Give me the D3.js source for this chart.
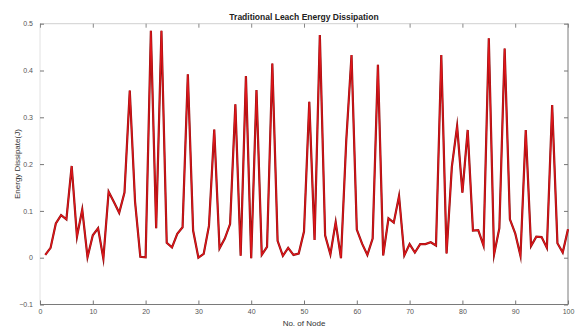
<!DOCTYPE html>
<html><head><meta charset="utf-8">
<script src="https://cdn.jsdelivr.net/npm/d3@7"></script>
<style>body{margin:0;background:#fff}svg{display:block}text{font-family:"Liberation Sans",Arial,sans-serif}</style>
</head><body><svg id="c" width="578" height="328"></svg>
<script>
const nodes = d3.range(1, 101);
const energy = [
0.006,0.021,0.073,0.091,0.082,0.196,0.045,0.103,0.001,0.048,
0.063,-0.002,0.141,0.119,0.096,0.139,0.357,0.120,0.002,0.001,
0.485,0.063,0.485,0.032,0.022,0.051,0.065,0.392,0.058,0.000,
0.008,0.068,0.274,0.020,0.041,0.072,0.328,0.004,0.388,-0.001,
0.358,0.006,0.023,0.415,0.036,0.004,0.021,0.006,0.009,0.056,
0.333,0.038,0.476,0.048,0.007,0.076,-0.001,0.250,0.433,0.060,
0.030,0.006,0.041,0.412,0.005,0.084,0.075,0.132,0.005,0.029,
0.011,0.029,0.029,0.033,0.026,0.433,0.009,0.194,0.281,0.139,
0.273,0.058,0.059,0.026,0.469,0.007,0.063,0.447,0.082,0.052,
0.004,0.273,0.025,0.045,0.044,0.021,0.326,0.031,0.011,0.061];
const xTicks = [0,10,20,30,40,50,60,70,80,90,100];
const yTicks = [-0.1,0,0.1,0.2,0.3,0.4,0.5];
const title = "Traditional Leach Energy Dissipation";
const xLabel = "No. of Node";
const yLabel = "Energy Dissipate(J)";

const svg = d3.select("#c");
const L=40, R=568, T=23.7, B=304.5;
const x = d3.scaleLinear().domain([0,100]).range([L,R]);
const y = d3.scaleLinear().domain([-0.1,0.5]).range([B,T]);

svg.append("line").attr("x1",L).attr("x2",R).attr("y1",T).attr("y2",T).attr("stroke","#d0d0d0");
svg.append("line").attr("x1",L).attr("x2",L).attr("y1",T).attr("y2",B).attr("stroke","#e2e2e2");
svg.append("line").attr("x1",L).attr("x2",R).attr("y1",B).attr("y2",B).attr("stroke","#7a7a7a");
svg.append("line").attr("x1",R).attr("x2",R).attr("y1",T).attr("y2",B).attr("stroke","#7a7a7a");

const fmtY = d => d===0 ? "0" : d3.format(".1f")(d);
const gx = svg.append("g").attr("transform",`translate(0,${B})`)
  .call(d3.axisBottom(x).tickValues(xTicks).tickSize(-4).tickPadding(5).tickFormat(d3.format("d")));
gx.select(".domain").remove();
gx.selectAll("line").attr("stroke","#777");
gx.selectAll("text").attr("fill","#555").style("font-size","7px");
const gt = svg.append("g").attr("transform",`translate(0,${T})`)
  .call(d3.axisTop(x).tickValues(xTicks).tickSize(-4).tickFormat(""));
gt.select(".domain").remove();
gt.selectAll("line").attr("stroke","#888");
const gy = svg.append("g").attr("transform",`translate(${L},0)`)
  .call(d3.axisLeft(y).tickValues(yTicks).tickSize(-4).tickPadding(7).tickFormat(fmtY));
gy.select(".domain").remove();
gy.selectAll("line").attr("stroke","#777");
gy.selectAll("text").attr("fill","#555").style("font-size","7px");
const gr = svg.append("g").attr("transform",`translate(${R},0)`)
  .call(d3.axisRight(y).tickValues(yTicks).tickSize(-4).tickFormat(""));
gr.select(".domain").remove();
gr.selectAll("line").attr("stroke","#777");

const line = d3.line().x((d,i)=>x(nodes[i])).y(d=>y(d));
svg.append("path").datum(energy).attr("d",line).attr("fill","none")
  .attr("stroke","#8a1010").attr("stroke-width",2.2).attr("stroke-linejoin","miter").attr("stroke-miterlimit",10);
svg.append("path").datum(energy).attr("d",line).attr("fill","none")
  .attr("stroke","#e0161b").attr("stroke-width",1.2).attr("stroke-linejoin","miter").attr("stroke-miterlimit",10);

svg.append("text").attr("x",(L+R)/2).attr("y",20).attr("text-anchor","middle")
  .style("font-size","8.5px").style("font-weight","bold").attr("fill","#222").text(title);
svg.append("text").attr("x",(L+R)/2).attr("y",326).attr("text-anchor","middle")
  .style("font-size","8px").attr("fill","#333").text(xLabel);
svg.append("text").attr("transform",`translate(20,${(T+B)/2}) rotate(-90)`).attr("text-anchor","middle")
  .style("font-size","8px").attr("fill","#333").text(yLabel);
</script></body></html>
